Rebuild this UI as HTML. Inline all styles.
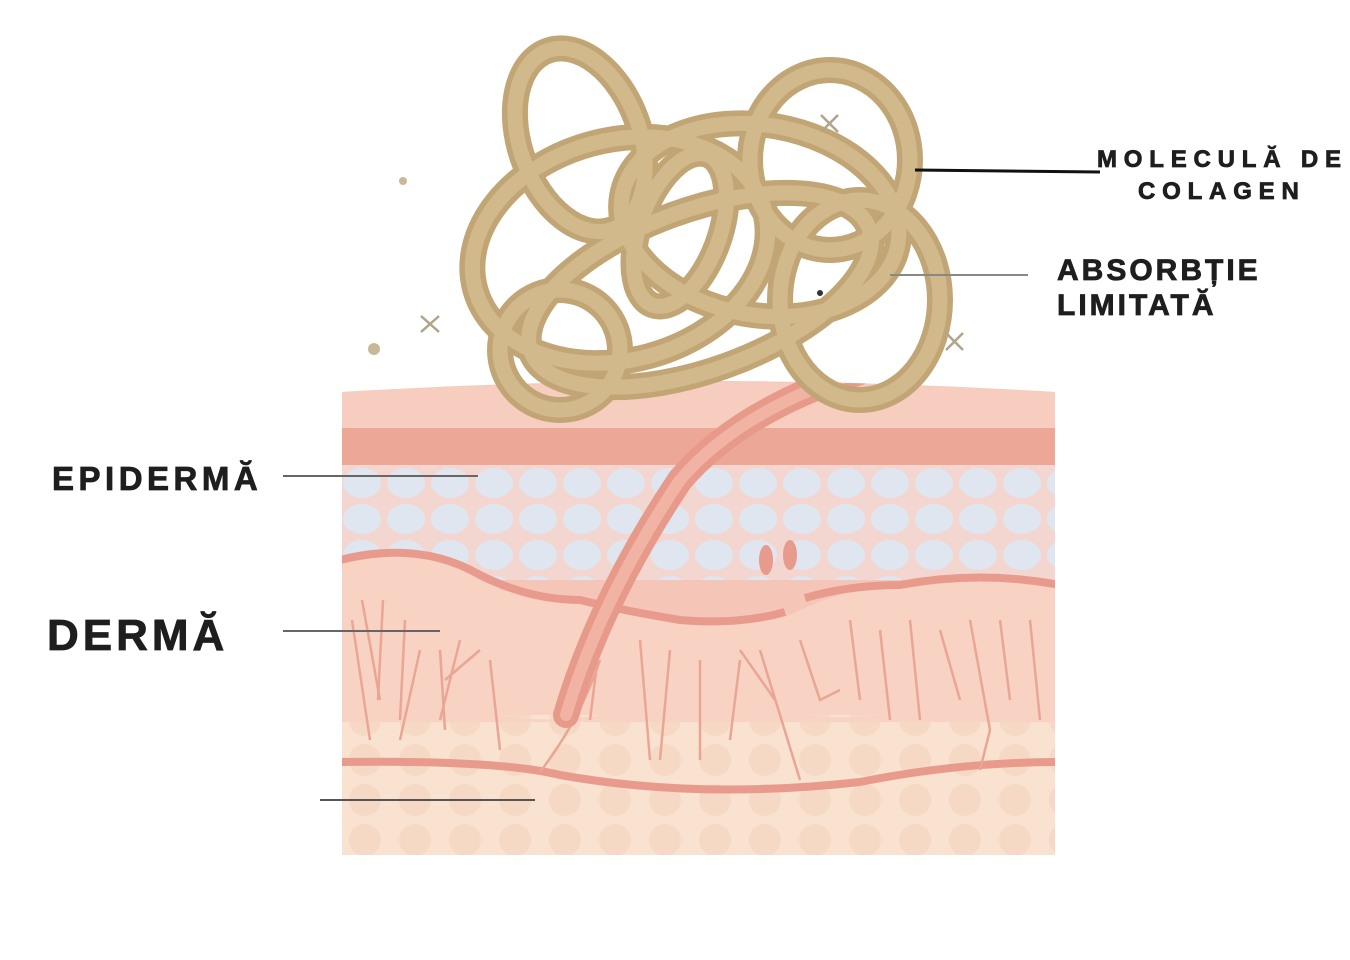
<!DOCTYPE html>
<html><head><meta charset="utf-8"><style>
html,body{margin:0;padding:0;background:#fff;}
.wrap{position:relative;width:1350px;height:960px;overflow:hidden;font-family:"Liberation Sans",Arial,sans-serif;}
.t{position:absolute;font-weight:bold;color:#1e1e1e;white-space:nowrap;-webkit-text-stroke:0.8px #1e1e1e;}
</style></head><body><div class="wrap">
<svg width="1350" height="960" viewBox="0 0 1350 960" style="position:absolute;left:0;top:0">
<defs>
<pattern id="cells" x="340" y="465" width="44" height="36" patternUnits="userSpaceOnUse">
<rect width="44" height="36" fill="#f3d6d0"/>
<ellipse cx="22" cy="18" rx="19" ry="15" fill="#dfe6ef"/>
</pattern>
<pattern id="fat" x="340" y="700" width="50" height="40" patternUnits="userSpaceOnUse">
<rect width="50" height="40" fill="#f9e2cf"/>
<circle cx="25" cy="20" r="16" fill="#f6d9c4"/>
</pattern>
<clipPath id="skin"><path d="M342 392 Q700 370 1055 392 L1055 855 L342 855 Z"/></clipPath>
</defs>
<g clip-path="url(#skin)">
<rect x="340" y="370" width="720" height="490" fill="#f5c6b7"/>
<path d="M340 392 Q700 372 1060 392 L1060 430 L340 430Z" fill="#f6cdbf"/>
<path d="M340 428 L1060 428 L1060 468 L340 468Z" fill="#eda796"/>
<rect x="340" y="465" width="720" height="115" fill="url(#cells)"/>
<path d="M340 560 Q420 540 480 575 Q530 600 580 600 Q620 610 680 620 Q740 625 790 615 Q850 585 900 585 Q980 570 1060 585 L1060 720 L340 720Z" fill="#f8d2c3"/>
<path d="M340 560 Q420 540 480 575 Q530 600 580 600 Q620 610 680 620 Q740 625 785 612" stroke="#e89b8c" stroke-width="8" fill="none"/>
<path d="M805 598 Q850 585 900 585 Q980 570 1060 585" stroke="#e89b8c" stroke-width="8" fill="none"/>
<rect x="340" y="715" width="720" height="140" fill="url(#fat)"/>
<path d="M340 705 Q420 690 480 712 Q560 730 640 705 Q720 690 780 712 Q860 725 940 705 Q1000 690 1060 700 L1060 722 L340 722Z" fill="#f8d2c3"/>
<path d="M340 762 Q500 760 560 775 Q700 800 860 782 Q960 762 1060 762" stroke="#e89b8c" stroke-width="8" fill="none"/>
<g stroke="#eaa595" stroke-width="2.5" fill="none">
<path d="M352 620 L370 740"/><path d="M362 600 L380 700"/><path d="M383 600 L378 700"/><path d="M405 620 L400 720"/><path d="M420 650 L400 740"/><path d="M440 650 L445 730"/><path d="M460 640 L440 720 M445 680 L480 650"/><path d="M490 660 L500 750"/>
<path d="M600 640 L590 720"/><path d="M640 640 L650 760"/><path d="M670 650 L660 760"/><path d="M700 660 L700 760"/><path d="M740 660 L730 740"/><path d="M760 650 L800 780 M775 700 L740 650"/><path d="M800 640 L820 700 L840 690"/><path d="M850 620 L860 700"/><path d="M880 630 L890 720"/><path d="M910 620 L920 720"/><path d="M940 630 L960 700"/><path d="M970 620 L990 730 L980 770"/><path d="M1000 620 L1010 700"/><path d="M1030 620 L1040 720"/>
<path d="M540 772 Q580 720 600 660"/>
</g>
<path d="M566 715 Q600 600 680 480 Q740 410 860 372" stroke="#e79a8a" stroke-width="26" stroke-linecap="round" fill="none"/>
<path d="M566 715 Q600 600 680 480 Q740 410 860 372" stroke="#f1b3a4" stroke-width="12" stroke-linecap="round" fill="none"/>
<ellipse cx="766" cy="560" rx="7" ry="15" fill="#e89b8c"/><ellipse cx="790" cy="555" rx="7" ry="15" fill="#e89b8c"/>
</g>
<g fill="none" stroke-linecap="round">
<g stroke="#c2a574" stroke-width="26">
<ellipse cx="580" cy="140" rx="60" ry="95" transform="rotate(-20 580 140)"/>
<ellipse cx="620" cy="250" rx="150" ry="110" transform="rotate(-15 620 250)"/>
<ellipse cx="760" cy="220" rx="140" ry="95" transform="rotate(10 760 220)"/>
<ellipse cx="830" cy="160" rx="80" ry="90"/>
<ellipse cx="700" cy="290" rx="180" ry="80" transform="rotate(-20 700 290)"/>
<ellipse cx="860" cy="300" rx="80" ry="100"/>
<ellipse cx="680" cy="230" rx="40" ry="80" transform="rotate(20 680 230)"/>
<ellipse cx="560" cy="350" rx="60" ry="60"/>
</g>
<g stroke="#d2b98b" stroke-width="15">
<ellipse cx="580" cy="140" rx="60" ry="95" transform="rotate(-20 580 140)"/>
<ellipse cx="620" cy="250" rx="150" ry="110" transform="rotate(-15 620 250)"/>
<ellipse cx="760" cy="220" rx="140" ry="95" transform="rotate(10 760 220)"/>
<ellipse cx="830" cy="160" rx="80" ry="90"/>
<ellipse cx="700" cy="290" rx="180" ry="80" transform="rotate(-20 700 290)"/>
<ellipse cx="860" cy="300" rx="80" ry="100"/>
<ellipse cx="680" cy="230" rx="40" ry="80" transform="rotate(20 680 230)"/>
<ellipse cx="560" cy="350" rx="60" ry="60"/>
</g>
</g>
<g stroke="#b0a48a" stroke-width="2.5">
<path d="M421 316 L439 332 M439 316 L421 332"/><path d="M821 115 L838 132 M838 115 L821 132"/><path d="M946 333 L963 350 M963 333 L946 350"/>
</g>
<circle cx="403" cy="181" r="4" fill="#c7b898"/><circle cx="374" cy="349" r="6" fill="#c7b898"/><circle cx="820" cy="293" r="3" fill="#333"/>
<line x1="915" y1="170" x2="1100" y2="172" stroke="#111" stroke-width="3"/>
<line x1="890" y1="275" x2="1028" y2="275" stroke="#888" stroke-width="2"/>
<line x1="283" y1="476" x2="478" y2="476" stroke="#666" stroke-width="2"/>
<line x1="283" y1="631" x2="440" y2="631" stroke="#666" stroke-width="2"/>
<line x1="320" y1="800" x2="535" y2="800" stroke="#555" stroke-width="2"/>
</svg>
<div class="t" style="left:1097px;top:146px;font-size:24px;letter-spacing:6.8px;">MOLECULĂ DE</div>
<div class="t" style="left:1138px;top:178px;font-size:24px;letter-spacing:6.8px;">COLAGEN</div>
<div class="t" style="left:1057px;top:254px;font-size:30px;letter-spacing:3px;">ABSORBȚIE</div>
<div class="t" style="left:1057px;top:289px;font-size:30px;letter-spacing:3px;">LIMITATĂ</div>
<div class="t" style="left:52px;top:460px;font-size:33px;letter-spacing:4.5px;">EPIDERMĂ</div>
<div class="t" style="left:47px;top:611px;font-size:44px;letter-spacing:4px;">DERMĂ</div>
</div></body></html>
